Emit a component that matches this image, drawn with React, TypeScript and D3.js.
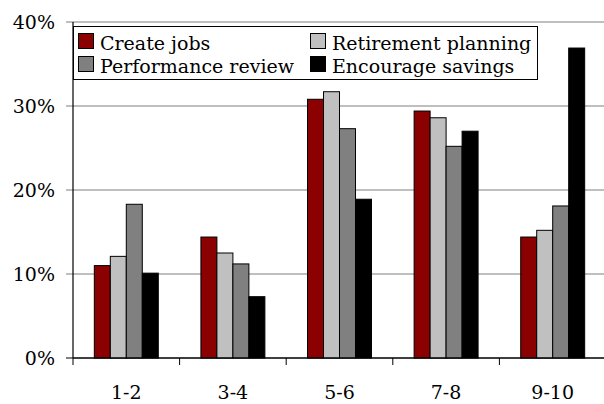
import * as d3 from 'd3';

const categories = ['1-2', '3-4', '5-6', '7-8', '9-10'];
const seriesNames = ['Create jobs', 'Retirement planning', 'Performance review', 'Encourage savings'];
const seriesColors = ['#8b0000', '#c0c0c0', '#808080', '#000000'];

// percent values per series, one per category
const createJobs = [11.0, 14.4, 30.8, 29.4, 14.4];
const retirementPlanning = [12.1, 12.5, 31.7, 28.6, 15.2];
const performanceReview = [18.3, 11.2, 27.3, 25.2, 18.1];
const encourageSavings = [10.1, 7.3, 18.9, 27.0, 36.9];

const yTicks = [0, 10, 20, 30, 40];

const FONT = "'DejaVu Serif', 'Liberation Serif', monospace";

const width = 604;
const height = 404;
const left = 73;
const right = 606;
const top = 22;
const bottom = 358;

export default function App() {
  const series = [createJobs, retirementPlanning, performanceReview, encourageSavings];

  const x = d3.scaleBand<string>()
    .domain(categories)
    .range([left, right])
    .paddingInner(0.4)
    .paddingOuter(0.2);

  const xi = d3.scaleBand<number>()
    .domain(d3.range(series.length))
    .range([0, x.bandwidth()]);

  const y = d3.scaleLinear().domain([0, 40]).range([bottom, top]);

  const step = (right - left) / categories.length;

  // legend layout
  const legendPos = [
    { x: 78, y: 33 },
    { x: 310, y: 33 },
    { x: 78, y: 56 },
    { x: 310, y: 56 },
  ];

  return (
    <svg
      width={width}
      height={height}
      style={{ position: 'absolute', left: 0, top: 0, display: 'block', background: '#fff' }}
    >
      {/* gridlines + y ticks */}
      {yTicks.map(t => (
        <g key={t}>
          <line x1={left - 7} x2={width} y1={y(t)} y2={y(t)}
            stroke={t === 0 ? '#000' : '#808080'} strokeWidth={1.2} />
          <text x={55} y={y(t)} dy="0.35em" textAnchor="end" fontSize={19} fill="#000"
            style={{ fontFamily: FONT }}>
            {`${t}%`}
          </text>
        </g>
      ))}

      {/* bars */}
      {categories.map((c, ci) =>
        series.map((s, si) => (
          <rect key={`${c}-${si}`}
            x={(x(c) ?? 0) + (xi(si) ?? 0)}
            y={y(s[ci])}
            width={xi.bandwidth()}
            height={y(0) - y(s[ci])}
            fill={seriesColors[si]}
            stroke="#000"
            strokeWidth={1} />
        ))
      )}

      {/* axes */}
      <line x1={left} x2={left} y1={top} y2={bottom} stroke="#000" strokeWidth={1.2} />
      <line x1={left} x2={width} y1={bottom} y2={bottom} stroke="#000" strokeWidth={1.2} />
      {d3.range(categories.length + 1).map(i => (
        <line key={i} x1={left + i * step} x2={left + i * step} y1={bottom} y2={bottom + 7}
          stroke="#000" strokeWidth={1} />
      ))}
      {categories.map(c => (
        <text key={c} x={(x(c) ?? 0) + x.bandwidth() / 2} y={399} textAnchor="middle"
          fontSize={19} fill="#000" style={{ fontFamily: FONT }}>
          {c}
        </text>
      ))}

      {/* legend */}
      <rect x={73.5} y={26.5} width={464} height={53} fill="#fff" stroke="#000" strokeWidth={1} />
      {seriesNames.map((name, i) => {
        const p = legendPos[i];
        return (
          <g key={name}>
            <rect x={p.x + 0.5} y={p.y + 0.5} width={15} height={15}
              fill={seriesColors[i]} stroke="#000" strokeWidth={1} />
            <text x={p.x + 22} y={p.y + 16.5} fontSize={19} fill="#000" style={{ fontFamily: FONT }}>
              {name}
            </text>
          </g>
        );
      })}
    </svg>
  );
}
